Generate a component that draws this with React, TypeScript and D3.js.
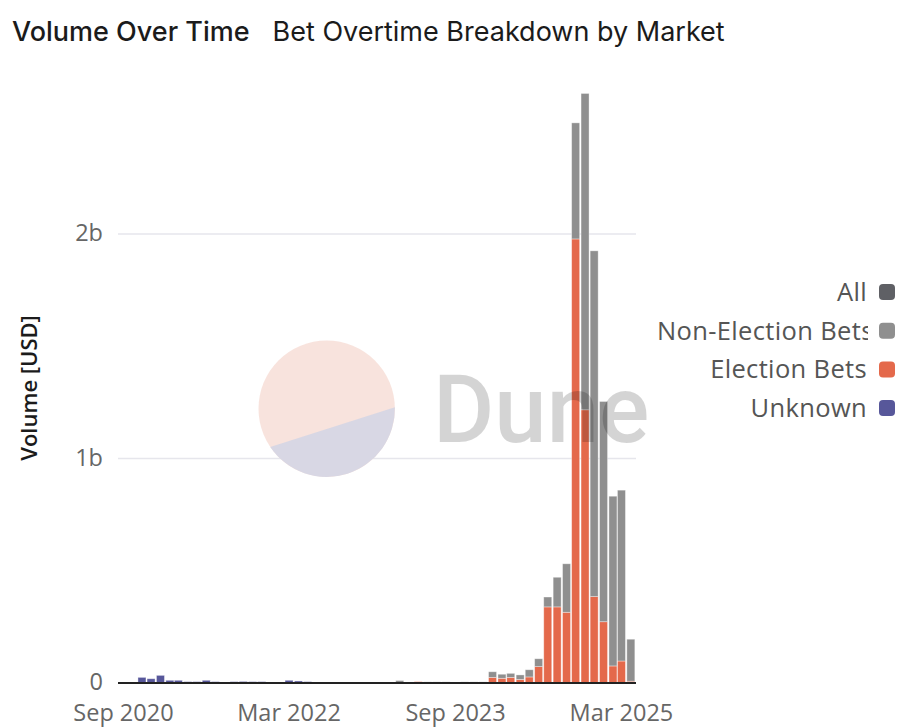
import React, { useEffect, useRef } from "react";
import * as d3 from "d3";

// ---- data (billions USD), monthly, Sep 2020 .. Apr 2025 ----
const months: string[] = [
  "2020-09", "2020-10", "2020-11", "2020-12",
  "2021-01", "2021-02", "2021-03", "2021-04", "2021-05", "2021-06", "2021-07", "2021-08", "2021-09", "2021-10", "2021-11", "2021-12",
  "2022-01", "2022-02", "2022-03", "2022-04", "2022-05", "2022-06", "2022-07", "2022-08", "2022-09", "2022-10", "2022-11", "2022-12",
  "2023-01", "2023-02", "2023-03", "2023-04", "2023-05", "2023-06", "2023-07", "2023-08", "2023-09", "2023-10", "2023-11", "2023-12",
  "2024-01", "2024-02", "2024-03", "2024-04", "2024-05", "2024-06", "2024-07", "2024-08", "2024-09", "2024-10", "2024-11", "2024-12",
  "2025-01", "2025-02", "2025-03", "2025-04",
];
const unknownBets: number[] = [
  0.002, 0.002, 0.025, 0.019,
  0.034, 0.012, 0.012, 0.006, 0.006, 0.012, 0.006, 0.003, 0.006, 0.007, 0.006, 0.006,
  0.003, 0.003, 0.012, 0.009, 0.006, 0.004, 0.003, 0.003, 0.003, 0.003, 0.004, 0.001,
  0.001, 0.001, 0, 0, 0, 0, 0, 0, 0, 0, 0, 0,
  0, 0, 0, 0, 0, 0, 0, 0, 0, 0, 0, 0,
  0, 0, 0, 0,
];
const electionBets: number[] = [
  0, 0, 0, 0,
  0, 0, 0, 0, 0, 0, 0, 0, 0, 0, 0, 0,
  0, 0, 0, 0, 0, 0, 0, 0, 0, 0, 0, 0,
  0, 0, 0, 0, 0.006, 0, 0, 0, 0, 0, 0, 0,
  0.025, 0.021, 0.025, 0.016, 0.027, 0.073, 0.339, 0.339, 0.315, 1.978, 1.217, 0.385,
  0.273, 0.076, 0.098, 0.008,
];
const nonElectionBets: number[] = [
  0, 0, 0, 0,
  0, 0, 0, 0, 0, 0, 0, 0, 0, 0, 0, 0,
  0, 0, 0, 0, 0, 0, 0, 0, 0, 0, 0, 0,
  0, 0, 0.011, 0.002, 0, 0.005, 0.005, 0.005, 0.002, 0.005, 0.005, 0.005,
  0.025, 0.018, 0.018, 0.020, 0.032, 0.035, 0.044, 0.132, 0.216, 0.517, 1.409, 1.540,
  0.981, 0.756, 0.761, 0.187,
];
const xTickLabels: string[] = ["2020-09", "2022-03", "2023-09", "2025-03"];
const yTickValues: number[] = [0, 1, 2];
const legendLabels: string[] = ["All", "Non-Election Bets", "Election Bets", "Unknown"];

const COLORS: Record<string, string> = {
  "All": "#5f6065",
  "Non-Election Bets": "#8f8f8f",
  "Election Bets": "#e4694b",
  "Unknown": "#57579a",
};

const FONT = "'Open Sans', 'Noto Sans', sans-serif";

export default function App() {
  const ref = useRef<SVGSVGElement | null>(null);

  useEffect(() => {
    const svg = d3.select(ref.current);
    svg.selectAll("*").remove();
    const parse = d3.timeParse("%Y-%m");

    const plot = { left: 118, right: 636, top: 80, bottom: 683 };
    const x = d3.scaleTime()
      .domain([new Date(2020, 7, 14), new Date(2025, 3, 18)])
      .range([plot.left, plot.right]);
    const y = d3.scaleLinear().domain([0, 2.68]).range([plot.bottom, plot.bottom - 2.68 * 224.5]);

    // Title
    const title = svg.append("text").attr("x", 12).attr("y", 41)
      .attr("font-family", "Inter, 'Open Sans', sans-serif").attr("font-size", 27).attr("fill", "#1b1b1b");
    title.append("tspan").attr("font-weight", 500).text("Volume Over Time");
    title.append("tspan").attr("dx", 23).attr("font-weight", 400).text("Bet Overtime Breakdown by Market");

    // gridlines
    svg.append("g").selectAll("line").data(yTickValues.filter(v => v > 0)).join("line")
      .attr("x1", plot.left).attr("x2", plot.right)
      .attr("y1", d => y(d)).attr("y2", d => y(d))
      .attr("stroke", "#e6e6ec").attr("stroke-width", 1.5);

    // y tick labels
    svg.append("g").selectAll("text").data(yTickValues).join("text")
      .attr("x", 103).attr("y", d => y(d) - 1).attr("dy", "0.35em")
      .attr("text-anchor", "end").attr("font-family", FONT).attr("font-size", 23.5).attr("fill", "#666")
      .text(d => (d === 0 ? "0" : `${d}b`));

    // y axis label
    svg.append("text")
      .attr("transform", `translate(37, 388) rotate(-90)`)
      .attr("text-anchor", "middle").attr("font-family", FONT).attr("font-size", 22)
      .attr("font-weight", 600).attr("fill", "#1b1b1b").text("Volume [USD]");

    // stacked bars
    const keys = ["Unknown", "Election Bets", "Non-Election Bets"];
    const rows = months.map((m, i) => ({
      date: parse(m) as Date,
      "Unknown": unknownBets[i],
      "Election Bets": electionBets[i],
      "Non-Election Bets": nonElectionBets[i],
    }));
    const stack = d3.stack<any>().keys(keys)(rows);
    const bw = 8;
    const gBars = svg.append("g");
    stack.forEach(layer => {
      gBars.append("g").selectAll("rect").data(layer.filter(d => d[1] - d[0] > 0)).join("rect")
        .attr("x", d => x(d.data.date) - bw / 2)
        .attr("width", bw)
        .attr("y", d => y(d[1]))
        .attr("height", d => Math.max(0, y(d[0]) - y(d[1])))
        .attr("fill", COLORS[layer.key])
        .attr("stroke", "rgba(255,255,255,0.45)")
        .attr("stroke-width", 0.8);
    });

    // zero line
    svg.append("line").attr("x1", plot.left).attr("x2", plot.right)
      .attr("y1", y(0)).attr("y2", y(0)).attr("stroke", "#222").attr("stroke-width", 2);

    // x tick labels
    const fmt = d3.timeFormat("%b %Y");
    svg.append("g").selectAll("text").data(xTickLabels.map(s => parse(s) as Date)).join("text")
      .attr("x", d => x(d)).attr("y", 721).attr("text-anchor", "middle")
      .attr("font-family", FONT).attr("font-size", 23.5).attr("fill", "#666")
      .text(d => fmt(d));

    // watermark
    const wm = svg.append("g");
    const cx = 326.7, cy = 408.7, r = 68.2;
    const a1 = Math.atan2(446.7 - cy, 270.7 - cx);
    const a2 = Math.atan2(407.3 - cy, 395 - cx);
    const p1 = [cx + r * Math.cos(a1), cy + r * Math.sin(a1)];
    const p2 = [cx + r * Math.cos(a2), cy + r * Math.sin(a2)];
    wm.append("circle").attr("cx", cx).attr("cy", cy).attr("r", r).attr("fill", "#f8e1db").attr("opacity", 0.95);
    wm.append("path")
      .attr("d", `M${p1[0]},${p1[1]} A${r},${r} 0 0 0 ${p2[0]},${p2[1]} Z`)
      .attr("fill", "#d6d6e4").attr("opacity", 0.95);
    wm.append("text").attr("x", 433).attr("y", 442)
      .attr("font-family", "Roboto, Inter, sans-serif").attr("font-weight", 500).attr("font-size", 94)
      .attr("fill", "#000").attr("fill-opacity", 0.17).text("Dune");

    // legend
    const defs = svg.append("defs");
    defs.append("clipPath").attr("id", "legclip").append("rect")
      .attr("x", 650).attr("y", 260).attr("width", 218).attr("height", 180);
    const lg = svg.append("g");
    legendLabels.forEach((lab, i) => {
      const cyL = 292 + i * 38.7;
      lg.append("rect").attr("x", 879).attr("y", cyL - 8).attr("width", 16).attr("height", 16)
        .attr("rx", 4).attr("fill", COLORS[lab]);
      const t = lg.append("text").attr("y", cyL).attr("dy", "0.35em")
        .attr("font-family", FONT).attr("font-size", 25.5).attr("letter-spacing", 0.35).attr("fill", "#555")
        .attr("clip-path", "url(#legclip)").text(lab);
      const w = (t.node() as SVGTextElement).getComputedTextLength();
      const xs = Math.max(657, 867 - w);
      t.attr("x", xs);
    });
  }, []);

  return (
    <svg ref={ref} width={914} height={728}
      style={{ position: "absolute", left: 0, top: 0, background: "#fff" }} />
  );
}
